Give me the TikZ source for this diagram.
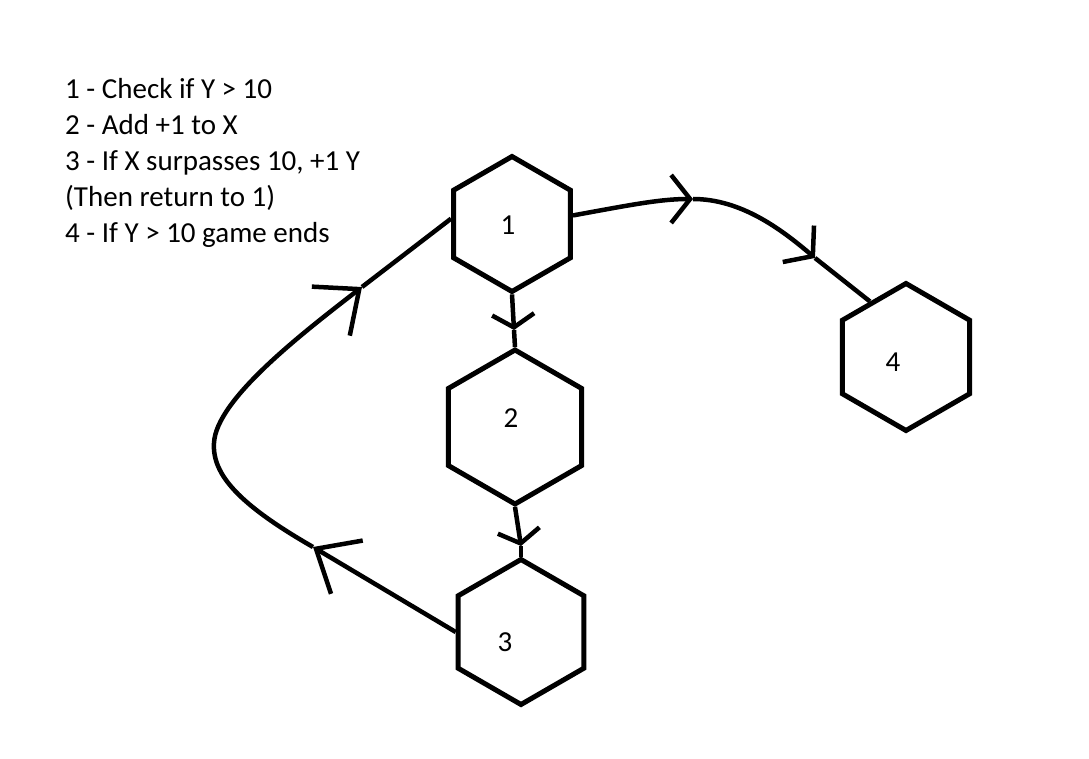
\documentclass[tikz,border=0pt]{standalone}
\usepackage{fontspec}
\setmainfont{Carlito}
\usetikzlibrary{shapes.geometric,arrows.meta}
\tikzset{
  hexbox/.style={draw, line width=5pt, regular polygon, regular polygon sides=6,
    shape border rotate=30, inner sep=0pt},
  link/.style={line width=4.5pt},
  chev/.tip={Straight Barb[length=13pt,width=42pt]},
  wide/.tip={Straight Barb[length=19pt,width=48pt]},
  big/.tip={Straight Barb[length=36pt,width=62pt]}
}
\begin{document}
\begin{tikzpicture}[x=1pt,y=-1pt,font=\fontsize{29}{36}\selectfont]
        \useasboundingbox (0,0) rectangle (1089,759);
        % list of steps
        \node[anchor=north west, align=left, inner sep=0pt] (steps) at (65,78)
          {1 - Check if Y > 10\\2 - Add +1 to X\\3 - If X surpasses 10, +1 Y\\(Then return to 1)\\4 - If Y > 10 game ends};
        % hexagons
        \node[hexbox, minimum size=135pt, label={[shift={(-4,1)}]center:1}] (n1) at (512,224) {};
        \node[hexbox, minimum size=154pt, label={[shift={(-4,-9)}]center:2}] (n2) at (515,427) {};
        \node[hexbox, minimum size=145pt, label={[shift={(-16,10)}]center:3}] (n3) at (521,632) {};
        \node[hexbox, minimum size=147pt, label={[shift={(-13,5)}]center:4}] (n4) at (906,357) {};
        % arrowhead points
        \coordinate (a12) at (514,330);
        \coordinate (a23) at (521,546);
        \coordinate (a14) at (693,199);
        \coordinate (b14) at (815,258);
        \coordinate (a31) at (313,547);
        \coordinate (b31) at (362,287);
        % 1 -> 2 -> 3
        \draw[link, -{chev}] (n1.south) -- (a12);
        \draw[link] (a12) -- (n2.north);
        \draw[link, -{chev}] (n2.south) -- (a23);
        \draw[link] (a23) -- (n3.north);
        % 1 -> 4
        \draw[link, -{wide}] (n1.8) .. controls (630,205) and (660,199) .. (a14);
        \draw[link, -{wide}] (a14) .. controls (740,199) and (780,228) .. (b14);
        \draw[link] (b14) -- (n4.123);
        % 3 -> 1
        \draw[link, -{big}] (n3.west) -- (a31);
        \draw[link, -{big}] (a31) .. controls (240,505) and (212,475) .. (214,443)
          .. controls (216,400) and (300,335) .. (b31);
        \draw[link] (b31) -- (n1.175);
    \end{tikzpicture}
\end{document}
